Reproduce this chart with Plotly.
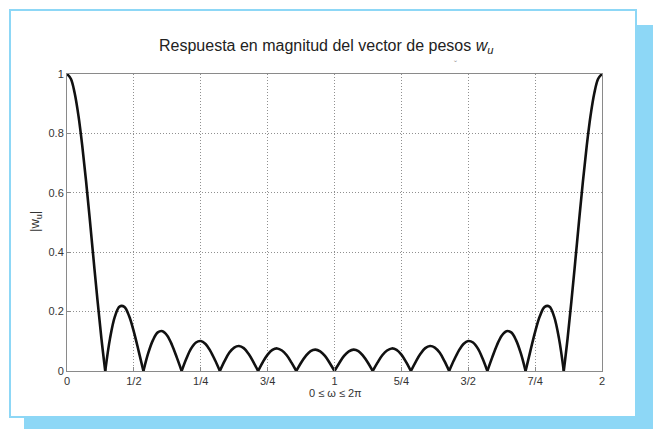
import plotly.graph_objects as go

# Frequency axis, in units of pi (0 .. 2)
omega = [
    0.0, 0.0143, 0.0286, 0.0429, 0.0571, 0.0714, 0.0857, 0.1, 0.1143, 0.1286,
    0.1429, 0.1607, 0.1786, 0.1964, 0.2143, 0.2321, 0.25, 0.2679,
    0.2857, 0.3036, 0.3214, 0.3393, 0.3571, 0.375, 0.3929, 0.4107,
    0.4286, 0.4464, 0.4643, 0.4821, 0.5, 0.5179, 0.5357, 0.5536,
    0.5714, 0.5893, 0.6071, 0.625, 0.6429, 0.6607, 0.6786, 0.6964,
    0.7143, 0.7321, 0.75, 0.7679, 0.7857, 0.8036, 0.8214, 0.8393,
    0.8571, 0.875, 0.8929, 0.9107, 0.9286, 0.9464, 0.9643, 0.9821,
    1.0, 1.0179, 1.0357, 1.0536, 1.0714, 1.0893, 1.1071, 1.125,
    1.1429, 1.1607, 1.1786, 1.1964, 1.2143, 1.2321, 1.25, 1.2679,
    1.2857, 1.3036, 1.3214, 1.3393, 1.3571, 1.375, 1.3929, 1.4107,
    1.4286, 1.4464, 1.4643, 1.4821, 1.5, 1.5179, 1.5357, 1.5536,
    1.5714, 1.5893, 1.6071, 1.625, 1.6429, 1.6607, 1.6786, 1.6964,
    1.7143, 1.7321, 1.75, 1.7679, 1.7857, 1.8036, 1.8214, 1.8393,
    1.8571, 1.8714, 1.8857, 1.9, 1.9143, 1.9286, 1.9429, 1.9571, 1.9714, 1.9857,
    2.0,
]

# Magnitude |w_u| of the weight vector response
magnitude = [
    1.0, 0.984, 0.936, 0.859, 0.758, 0.638, 0.506, 0.369, 0.235, 0.110,
    0.0, 0.109, 0.182, 0.217, 0.216, 0.185, 0.132, 0.067,
    0.0, 0.060, 0.104, 0.130, 0.134, 0.119, 0.087, 0.045,
    0.0, 0.042, 0.076, 0.096, 0.101, 0.091, 0.068, 0.036,
    0.0, 0.034, 0.062, 0.079, 0.084, 0.077, 0.058, 0.031,
    0.0, 0.030, 0.055, 0.071, 0.076, 0.069, 0.053, 0.028,
    0.0, 0.028, 0.051, 0.067, 0.072, 0.066, 0.051, 0.027,
    0.0, 0.027, 0.051, 0.066, 0.072, 0.067, 0.051, 0.028,
    0.0, 0.028, 0.053, 0.069, 0.076, 0.071, 0.055, 0.030,
    0.0, 0.031, 0.058, 0.077, 0.084, 0.079, 0.062, 0.034,
    0.0, 0.036, 0.068, 0.091, 0.101, 0.096, 0.076, 0.042,
    0.0, 0.045, 0.087, 0.119, 0.134, 0.130, 0.104, 0.060,
    0.0, 0.067, 0.132, 0.185, 0.216, 0.217, 0.182, 0.109,
    0.0, 0.110, 0.235, 0.369, 0.506, 0.638, 0.758, 0.859, 0.936, 0.984,
    1.0,
]

x_tick_vals = [0, 0.25, 0.5, 0.75, 1, 1.25, 1.5, 1.75, 2]
x_tick_text = ["0", "1/2", "1/4", "3/4", "1", "5/4", "3/2", "7/4", "2"]
y_tick_vals = [0, 0.2, 0.4, 0.6, 0.8, 1]
y_tick_text = ["0", "0.2", "0.4", "0.6", "0.8", "1"]

W, H = 653, 429
L, R, T, B = 67, 602, 74, 371  # plot area in pixels
PW, PH = R - L, B - T


def px(x):
    return (x - L) / PW


def py(y):
    return (B - y) / PH


BLUE = "#8dd7f6"
FONT = "Liberation Sans, Arial, sans-serif"

fig = go.Figure()

# Each lobe is drawn as its own smooth curve so the nulls keep their sharp cusps.
zeros = [i for i, v in enumerate(magnitude) if v == 0.0]
bounds = [0] + zeros + [len(magnitude) - 1]
for a, b in zip(bounds[:-1], bounds[1:]):
    fig.add_trace(go.Scatter(
        x=omega[a:b + 1], y=magnitude[a:b + 1], mode="lines",
        line=dict(color="#111111", width=2.6, shape="spline", smoothing=1.0),
        hoverinfo="skip", showlegend=False,
    ))

axis_common = dict(
    showline=True, linecolor="#8a8a8a", linewidth=1, mirror=True,
    showgrid=True, gridcolor="#909090", gridwidth=1, griddash="1px,2px",
    zeroline=False, ticks="inside", ticklen=4, tickcolor="#8a8a8a",
    tickfont=dict(family=FONT, size=11, color="#333333"),
)

fig.update_xaxes(range=[0, 2], tickvals=x_tick_vals, ticktext=x_tick_text, **axis_common)
fig.update_yaxes(range=[0, 1], tickvals=y_tick_vals, ticktext=y_tick_text, **axis_common)

shapes = [
    # drop shadow of the frame
    dict(type="rect", xref="paper", yref="paper",
         x0=px(24), x1=px(W), y0=py(H), y1=py(25),
         fillcolor=BLUE, line=dict(width=0), layer="below"),
    # white framed panel
    dict(type="rect", xref="paper", yref="paper",
         x0=px(10), x1=px(636), y0=py(417), y1=py(10),
         fillcolor="white", line=dict(color=BLUE, width=2), layer="below"),
]

annotations = [
    dict(text="Respuesta en magnitud del vector de pesos <i>w</i><sub><i>u</i></sub>",
         xref="paper", yref="paper", x=px(326), y=py(46),
         xanchor="center", yanchor="middle", showarrow=False,
         font=dict(family=FONT, size=16, color="#222222")),
    dict(text="0 \u2264 \u03c9 \u2264 2\u03c0",
         xref="paper", yref="paper", x=px(335), y=py(393),
         xanchor="center", yanchor="middle", showarrow=False,
         font=dict(family=FONT, size=11, color="#333333")),
    dict(text="|w<sub>u</sub>|",
         xref="paper", yref="paper", x=px(35), y=py(222),
         xanchor="center", yanchor="middle", showarrow=False, textangle=-90,
         font=dict(family=FONT, size=13, color="#333333")),
    dict(text="\u02c7",
         xref="paper", yref="paper", x=px(455), y=py(64),
         xanchor="center", yanchor="middle", showarrow=False,
         font=dict(family=FONT, size=9, color="#9a9a9a")),
]

fig.update_layout(
    width=W, height=H,
    margin=dict(l=L, r=W - R, t=T, b=H - B, pad=0),
    paper_bgcolor="white", plot_bgcolor="rgba(0,0,0,0)",
    shapes=shapes, annotations=annotations,
    showlegend=False,
)

fig.write_html("out.html")
